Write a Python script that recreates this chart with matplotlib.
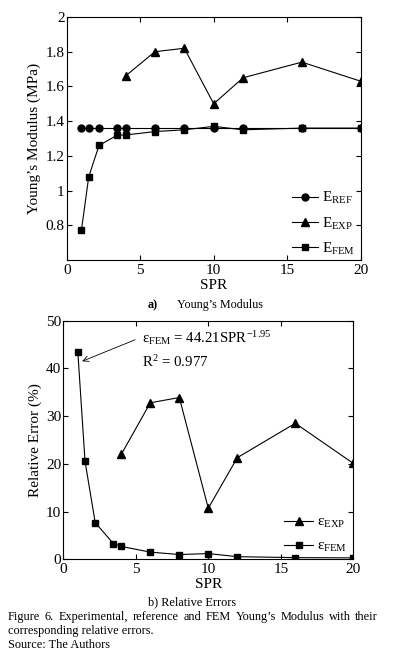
import matplotlib
matplotlib.use("Agg")
import matplotlib.pyplot as plt

plt.rcParams['font.family'] = ['Liberation Serif', 'DejaVu Serif']
plt.rcParams['mathtext.fontset'] = 'custom'
plt.rcParams['mathtext.rm'] = 'Liberation Serif'
plt.rcParams['mathtext.it'] = 'Liberation Serif'
plt.rcParams['mathtext.bf'] = 'Liberation Serif'
plt.rcParams['mathtext.default'] = 'regular'

# --- data ---
spr = [1, 1.5, 2.2, 3.45, 4, 6, 8, 10, 12, 16, 20]
e_ref = [1.36, 1.36, 1.36, 1.36, 1.36, 1.36, 1.36, 1.36, 1.36, 1.36, 1.36]
e_fem = [0.77, 1.08, 1.26, 1.32, 1.32, 1.34, 1.35, 1.37, 1.35, 1.36, 1.36]
spr_exp = [4, 6, 8, 10, 12, 16, 20]
e_exp = [1.66, 1.80, 1.82, 1.50, 1.65, 1.74, 1.63]

err_fem = [43.5, 20.5, 7.7, 3.3, 2.7, 1.5, 1.0, 1.2, 0.55, 0.35, 0.3]
err_exp = [22.0, 32.8, 33.9, 10.7, 21.3, 28.5, 20.1]

W, H = 397, 657
fig = plt.figure(figsize=(W / 100, H / 100), dpi=100)
FS = 11


def style(ax):
    ax.tick_params(direction='in', top=True, right=True, labelsize=FS,
                   length=3.5, width=0.8)
    ax.tick_params(axis='x', pad=3)
    ax.tick_params(axis='y', pad=1.5)
    for s in ax.spines.values():
        s.set_linewidth(0.8)


# a) Young's modulus
ax1 = fig.add_axes([66.7 / W, 1 - 260 / H, 294 / W, 243 / H])
ax1.plot(spr, e_ref, '-o', color='black', lw=0.8, ms=5, label=r'E$_{REF}$')
ax1.plot(spr_exp, e_exp, '-^', color='black', lw=0.8, ms=5.5, label=r'E$_{EXP}$')
ax1.plot(spr, e_fem, '-s', color='black', lw=0.8, ms=5, label=r'E$_{FEM}$')
ax1.set_xlim(0, 20)
ax1.set_ylim(0.6, 2)
ax1.set_xticks([0, 5, 10, 15, 20])
ax1.set_yticks([0.8, 1, 1.2, 1.4, 1.6, 1.8, 2])
ax1.set_yticklabels(['0.8', '1', '1.2', '1.4', '1.6', '1.8', '2'])
ax1.set_xlabel('SPR', fontsize=FS, labelpad=1)
ax1.set_ylabel('Young\u2019s Modulus (MPa)', fontsize=FS, labelpad=3)
style(ax1)
ax1.legend(loc='lower right', bbox_to_anchor=(1.0, -0.012), frameon=False,
           fontsize=FS, labelspacing=0.6, handlelength=1.7, handletextpad=0.25,
           borderaxespad=0.0)

# b) Relative errors
ax2 = fig.add_axes([63.3 / W, 1 - 559.3 / H, 290 / W, 238.6 / H])
ax2.plot(spr_exp, err_exp, '-^', color='black', lw=0.8, ms=5.5, label=r'$\epsilon_{EXP}$')
ax2.plot(spr, err_fem, '-s', color='black', lw=0.8, ms=5, label=r'$\epsilon_{FEM}$')
ax2.set_xlim(0, 20)
ax2.set_ylim(0, 50)
ax2.set_xticks([0, 5, 10, 15, 20])
ax2.set_yticks([0, 10, 20, 30, 40, 50])
ax2.set_xlabel('SPR', fontsize=FS, labelpad=1)
ax2.set_ylabel('Relative Error (%)', fontsize=FS, labelpad=3)
style(ax2)
ax2.legend(loc='lower right', bbox_to_anchor=(1.0, -0.005), frameon=False,
           fontsize=FS, labelspacing=0.6, handlelength=1.9, handletextpad=0.25,
           borderaxespad=0.0)
ax2.annotate('', xy=(1.3, 41.5), xytext=(4.95, 46.0),
             arrowprops=dict(arrowstyle='->', color='black', lw=0.6,
                             shrinkA=0, shrinkB=0))
ax2.text(5.45, 46.3, r'$\epsilon_{FEM}$ = 44.21SPR$^{-1.95}$', fontsize=10.7,
         va='center', ha='left')
ax2.text(5.45, 41.3, r'R$^2$ = 0.977', fontsize=10.7, va='center', ha='left')

# sub captions
fig.text(148 / W, 1 - 305 / H, 'a)', ha='left', va='center', fontsize=8.7,
         fontweight='bold')
fig.text(176.7 / W, 1 - 305 / H, 'Young\u2019s Modulus', ha='left', va='center',
         fontsize=8.7)
fig.text(148 / W, 1 - 602.7 / H, 'b) Relative Errors', ha='left', va='center',
         fontsize=8.8)

# figure caption, first line justified
CFS = 8.8
line1 = 'Figure 6. Experimental, reference and FEM Young\u2019s Modulus with their'.split()
left_px, right_px = 8, 378
words = [fig.text(0, 1 - 617 / H, w, ha='left', va='center', fontsize=CFS) for w in line1]
renderer = fig.canvas.get_renderer()
widths = [t.get_window_extent(renderer).width for t in words]
gap = (right_px - left_px - sum(widths)) / (len(words) - 1)
x = left_px
for t, wd in zip(words, widths):
    t.set_x(x / W)
    x += wd + gap
fig.text(left_px / W, 1 - 631 / H, 'corresponding relative errors.', ha='left',
         va='center', fontsize=CFS)
fig.text(left_px / W, 1 - 644.5 / H, 'Source: The Authors', ha='left', va='center',
         fontsize=CFS)

fig.savefig('out.png', dpi=100)
